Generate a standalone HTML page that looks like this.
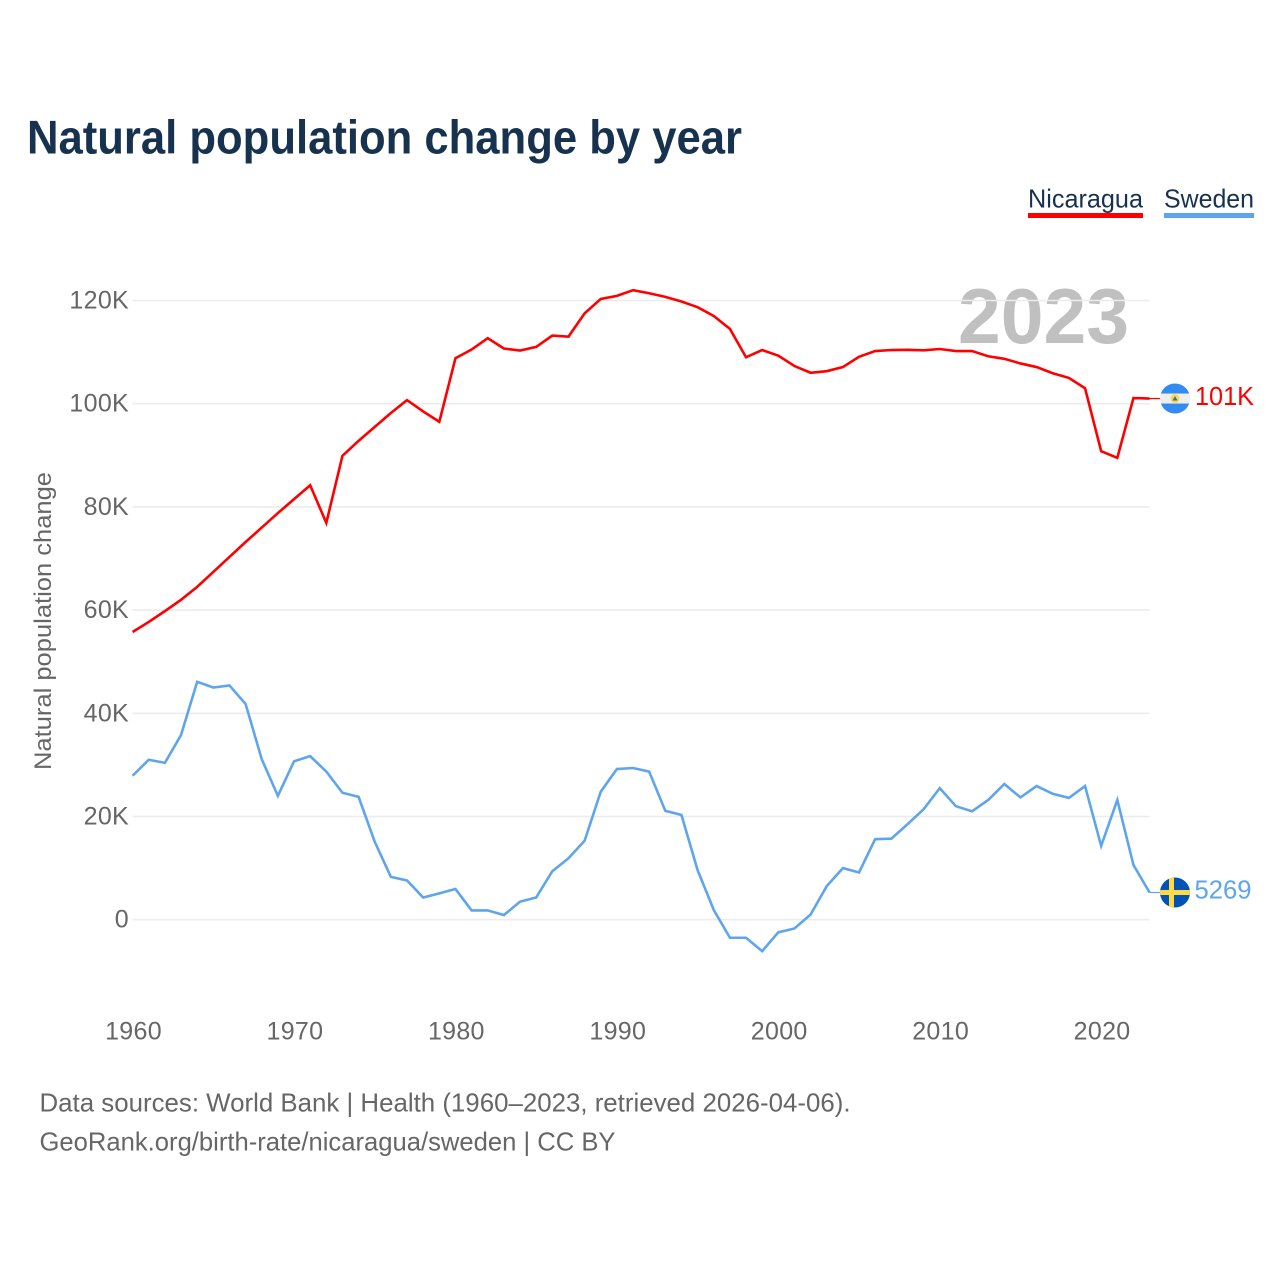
<!DOCTYPE html>
<html lang="en">
<head>
<meta charset="utf-8">
<title>Natural population change by year</title>
<style>
html,body{margin:0;padding:0;background:#fff;}
svg{display:block;font-family:"Liberation Sans",sans-serif;}
</style>
</head>
<body>
<svg id="chart" width="1280" height="1280" viewBox="0 0 1280 1280" xmlns="http://www.w3.org/2000/svg">
  <defs>
    <clipPath id="flag-clip"><circle cx="0" cy="0" r="15"/></clipPath>
  </defs>
  <text x="27" y="153.5" font-size="47" font-weight="700" fill="#17324f" textLength="715" lengthAdjust="spacingAndGlyphs">Natural population change by year</text>

  <g>
    <text x="1028" y="207.5" font-size="26" fill="#17324f" textLength="115" lengthAdjust="spacingAndGlyphs">Nicaragua</text>
    <rect x="1028" y="213" width="115" height="5" fill="#ff0000"/>
  </g>
  <g>
    <text x="1164" y="207.5" font-size="26" fill="#17324f" textLength="90" lengthAdjust="spacingAndGlyphs">Sweden</text>
    <rect x="1164" y="213" width="90" height="5" fill="#5fa5ec"/>
  </g>

  <text x="958" y="343" font-size="78" font-weight="700" fill="#c0c0c0" textLength="171" lengthAdjust="spacingAndGlyphs">2023</text>

  <g id="grid"></g>
  <g id="y-ticks"></g>
  <g id="x-ticks"></g>

  <text transform="translate(51,770) rotate(-90)" x="0" y="0" font-size="24" fill="#666666" textLength="298" lengthAdjust="spacingAndGlyphs">Natural population change</text>

  <g id="series"></g>

  <g id="flag-nicaragua">
    <g clip-path="url(#flag-clip)">
      <rect x="-15" y="-15" width="30" height="30" fill="#eeeeee"/>
      <rect x="-15" y="-15" width="30" height="10" fill="#338af3"/>
      <rect x="-15" y="5" width="30" height="10" fill="#338af3"/>
      <circle cx="0" cy="0" r="4.5" fill="#ffda44"/>
      <path d="M0,-2.5 L2.6,2 L-2.6,2 Z" fill="#2e6fb8"/>
    </g>
  </g>
  <g id="flag-sweden">
    <g clip-path="url(#flag-clip)">
      <rect x="-15" y="-15" width="30" height="30" fill="#0052b4"/>
      <rect x="-6" y="-15" width="5" height="30" fill="#ffda44"/>
      <rect x="-15" y="-2.5" width="30" height="5" fill="#ffda44"/>
    </g>
  </g>

  <g id="end-labels"></g>

  <text x="39.5" y="1111.5" font-size="26" fill="#666666" textLength="811" lengthAdjust="spacingAndGlyphs">Data sources: World Bank | Health (1960–2023, retrieved 2026-04-06).</text>
  <text x="39.5" y="1150.5" font-size="26" fill="#666666" textLength="576" lengthAdjust="spacingAndGlyphs">GeoRank.org/birth-rate/nicaragua/sweden | CC BY</text>
</svg>

<script>
const years = [1960,1961,1962,1963,1964,1965,1966,1967,1968,1969,1970,1971,1972,1973,1974,1975,1976,1977,1978,1979,1980,1981,1982,1983,1984,1985,1986,1987,1988,1989,1990,1991,1992,1993,1994,1995,1996,1997,1998,1999,2000,2001,2002,2003,2004,2005,2006,2007,2008,2009,2010,2011,2012,2013,2014,2015,2016,2017,2018,2019,2020,2021,2022,2023];
const nicaraguaValues = [55750,57700,59800,62000,64500,67400,70300,73200,76000,78800,81500,84200,76900,89900,92800,95500,98200,100700,98500,96500,108800,110500,112700,110700,110300,111000,113200,113000,117500,120300,120900,122000,121400,120700,119800,118700,117000,114500,109000,110400,109300,107300,106000,106300,107100,109100,110200,110400,110450,110350,110600,110200,110200,109200,108700,107800,107100,105900,105000,103000,90800,89500,101100,101000];
const swedenValues = [27900,31000,30400,35800,46100,45000,45400,41800,31100,24000,30700,31700,28700,24600,23800,15100,8300,7600,4300,5100,5950,1800,1800,900,3500,4300,9400,11900,15300,24800,29200,29400,28700,21100,20300,9600,1900,-3500,-3500,-6100,-2450,-1700,1000,6500,10000,9150,15600,15700,18500,21400,25500,22000,21000,23200,26300,23700,25900,24400,23600,25900,14300,23200,10600,5269];
const yTickValues = [0,20000,40000,60000,80000,100000,120000];
const xTickValues = [1960,1970,1980,1990,2000,2010,2020];

const NS = 'http://www.w3.org/2000/svg';
const xLeft = 132.6, xRight = 1149.6, yZero = 919.7, pxPerUnit = 619.2 / 120000;
const firstYear = years[0], lastYear = years[years.length - 1];
function xScale(year) { return xLeft + (year - firstYear) * (xRight - xLeft) / (lastYear - firstYear); }
function yScale(value) { return yZero - value * pxPerUnit; }
function formatTick(value) { return value === 0 ? '0' : (value / 1000) + 'K'; }
function formatEnd(value) { return Math.abs(value) >= 10000 ? Math.round(value / 1000) + 'K' : String(Math.round(value)); }
function make(tag, attrs, text) {
  const el = document.createElementNS(NS, tag);
  for (const key in attrs) el.setAttribute(key, attrs[key]);
  if (text !== undefined) el.textContent = text;
  return el;
}

const gridGroup = document.getElementById('grid');
const yTickGroup = document.getElementById('y-ticks');
yTickValues.forEach(function (value) {
  const line = make('line', { x1: xLeft, x2: xRight, y1: yScale(value), y2: yScale(value), stroke: '#ececec', 'stroke-width': 1.6 });
  
  
  gridGroup.appendChild(line);
  const label = make('text', { x: 129, y: yScale(value) + 8, 'text-anchor': 'end', 'font-size': 25, fill: '#666666', 'letter-spacing': 0.3 }, formatTick(value));
  
  
  yTickGroup.appendChild(label);
});

const xTickGroup = document.getElementById('x-ticks');
xTickValues.forEach(function (year) {
  const label = make('text', { x: xScale(year) + 0.9, y: 1039.5, 'text-anchor': 'middle', 'font-size': 25, fill: '#666666', 'letter-spacing': 0.3 }, String(year));
  
  
  xTickGroup.appendChild(label);
});

function pathFor(values) {
  return values.map(function (value, i) {
    return (i === 0 ? 'M' : 'L') + xScale(years[i]).toFixed(2) + ',' + yScale(value).toFixed(2);
  }).join(' ');
}

const seriesGroup = document.getElementById('series');
const endLabels = document.getElementById('end-labels');

const nicaraguaLine = make('path', { d: pathFor(nicaraguaValues), fill: 'none', stroke: '#ff0000', 'stroke-width': 2.6, 'stroke-linejoin': 'miter' });


seriesGroup.appendChild(nicaraguaLine);

const swedenLine = make('path', { d: pathFor(swedenValues), fill: 'none', stroke: '#5fa5ec', 'stroke-width': 2.6, 'stroke-linejoin': 'miter' });


seriesGroup.appendChild(swedenLine);

const nicaraguaLast = nicaraguaValues[nicaraguaValues.length - 1];
const swedenLast = swedenValues[swedenValues.length - 1];

const nicaraguaLeader = make('line', { x1: xRight, x2: 1162, y1: yScale(nicaraguaLast), y2: yScale(nicaraguaLast), stroke: '#ff0000', 'stroke-width': 1.2 });


seriesGroup.appendChild(nicaraguaLeader);

const swedenLeader = make('line', { x1: xRight, x2: 1162, y1: yScale(swedenLast), y2: yScale(swedenLast), stroke: '#5fa5ec', 'stroke-width': 1.2 });


seriesGroup.appendChild(swedenLeader);

document.getElementById('flag-nicaragua').setAttribute('transform', 'translate(1175,' + yScale(nicaraguaLast) + ')');
document.getElementById('flag-sweden').setAttribute('transform', 'translate(1175,' + yScale(swedenLast) + ')');

const nicaraguaEnd = make('text', { x: 1195, y: yScale(nicaraguaLast) + 6.5, 'font-size': 26, fill: '#ff0000', textLength: 59, lengthAdjust: 'spacingAndGlyphs' }, formatEnd(nicaraguaLast));


endLabels.appendChild(nicaraguaEnd);

const swedenEnd = make('text', { x: 1194.5, y: yScale(swedenLast) + 6, 'font-size': 26, fill: '#5fa5ec', textLength: 57, lengthAdjust: 'spacingAndGlyphs' }, formatEnd(swedenLast));


endLabels.appendChild(swedenEnd);
</script>
</body>
</html>
